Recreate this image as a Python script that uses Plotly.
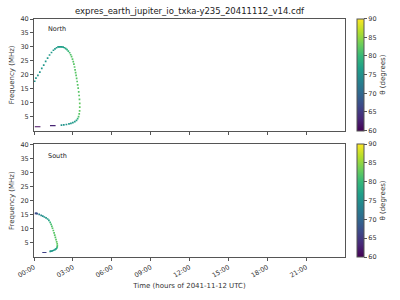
import plotly.graph_objects as go

# ---- data (hours of day, frequency MHz, theta degrees) ----
north_t = [0.05, 0.15, 0.3, 0.45, 0.6, 0.75, 0.9, 1.05, 1.2, 1.35, 1.5, 1.62, 1.74, 1.86, 1.95, 2.05, 2.15, 2.25,
           2.35, 2.45, 2.55, 2.65, 2.75, 2.83, 2.9, 2.97, 3.03, 3.08, 3.13, 3.17, 3.21, 3.25, 3.29, 3.33,
           3.37, 3.41, 3.45, 3.48, 3.51, 3.53, 3.53, 3.52, 3.49, 3.44, 3.37, 3.28, 3.15, 3.0, 2.85, 2.7, 2.5, 2.3, 2.12]
north_f = [17.7, 18.8, 19.8, 21.0, 22.3, 23.5, 24.8, 26.0, 27.1, 28.0, 28.8, 29.3, 29.7, 30.0, 30.0, 30.0, 30.0, 29.9,
           29.7, 29.4, 29.0, 28.5, 27.9, 27.2, 26.5, 25.6, 24.7, 23.8, 22.8, 21.8, 20.8, 19.8, 18.7, 17.6,
           16.4, 15.2, 13.9, 12.6, 11.2, 9.8, 8.4, 7.1, 6.0, 5.0, 4.3, 3.7, 3.2, 2.9, 2.6, 2.4, 2.2, 2.1, 2.0]
north_th = [75.5, 75.5, 75.5, 75.5, 75.8, 75.8, 76, 76, 76, 76.2, 76.2, 76.3, 76.3, 76.5, 76.5, 76.5, 76.5, 77,
            77.5, 78, 79, 80, 81, 81.5, 82, 82, 82, 82, 82, 82, 82, 82, 82, 82,
            82, 82, 82, 82, 82, 82.5, 82.5, 82.5, 82, 81.5, 80, 77, 76.5, 76, 76, 76, 75.5, 75.5, 75.5]
north_low_t = [0.28, 1.45]
north_low_f = [1.4, 1.8]
north_low_th = [61, 63]

south_t = [0.12, 0.18, 0.24, 0.4, 0.55, 0.68, 0.8, 0.93, 1.05, 1.15, 1.25, 1.32, 1.38, 1.43, 1.49, 1.55, 1.6, 1.65,
           1.7, 1.75, 1.79, 1.8, 1.79, 1.76, 1.7, 1.62, 1.52, 1.42, 1.32, 1.25]
south_f = [15.5, 15.5, 15.4, 15.1, 14.8, 14.5, 14.2, 13.9, 13.5, 13.0, 12.3, 11.6, 10.9, 10.2, 9.4, 8.6, 7.8, 7.0,
           6.2, 5.4, 4.7, 4.1, 3.6, 3.2, 2.9, 2.6, 2.4, 2.2, 2.1, 2.0]
south_th = [67, 67, 68, 73, 74, 75, 75.5, 76, 76.5, 77, 80, 81, 81.5, 82, 82, 82, 82, 82,
            82, 82.5, 82.5, 82, 81, 79, 77, 76.5, 76, 76, 76, 76]
south_low_t = [0.8]
south_low_f = [1.6]
south_low_th = [66]

hour_ticks = [0, 3, 6, 9, 12, 15, 18, 21]
hour_labels = ["00:00", "03:00", "06:00", "09:00", "12:00", "15:00", "18:00", "21:00"]
freq_ticks = [5, 10, 15, 20, 25, 30, 35, 40]
theta_ticks = [60, 65, 70, 75, 80, 85, 90]

title = "expres_earth_jupiter_io_txka-y235_20411112_v14.cdf"
FONT = "DejaVu Sans"
AX = "#555555"

fig = go.Figure()


def add(t, f, th, ax, ca, symbol="square", size=1.7):
    if "line" in symbol:
        line = dict(width=1.2, color=th, coloraxis=ca)
    else:
        line = dict(width=0)
    fig.add_trace(go.Scatter(x=t, y=f, mode="markers", xaxis="x" + ax, yaxis="y" + ax,
                             marker=dict(symbol=symbol, size=size, color=th, coloraxis=ca, line=line),
                             showlegend=False, hoverinfo="skip"))


add(north_t, north_f, north_th, "", "coloraxis")
add(north_low_t, north_low_f, north_low_th, "", "coloraxis", symbol="line-ew", size=4)
add(south_t, south_f, south_th, "2", "coloraxis2")
add(south_low_t, south_low_f, south_low_th, "2", "coloraxis2", symbol="line-ew", size=3)

common_x = dict(range=[0, 24], tickvals=hour_ticks, showgrid=False, zeroline=False, showline=True,
                linecolor=AX, linewidth=1, mirror=True, ticks="outside", ticklen=3, tickcolor=AX,
                tickfont=dict(size=6.5, color="#333"))
common_y = dict(range=[0, 40], tickvals=freq_ticks, showgrid=False, zeroline=False, showline=True,
                linecolor=AX, linewidth=1, mirror=True, ticks="outside", ticklen=3, tickcolor=AX,
                tickfont=dict(size=6.5, color="#333"),
                title=dict(text="Frequency (MHz)", font=dict(size=7, color="#333"), standoff=4))

cb_common = dict(thickness=7, xpad=0, ypad=0, x=1.04, xanchor="left", yanchor="bottom",
                 outlinecolor=AX, outlinewidth=1, tickvals=theta_ticks, ticks="outside", ticklen=3,
                 tickcolor=AX, tickfont=dict(size=6.5, color="#333"),
                 title=dict(text="θ (degrees)", side="right", font=dict(size=7, color="#333")))

fig.update_layout(
    width=400, height=300, margin=dict(l=31, r=50, t=19, b=38),
    paper_bgcolor="white", plot_bgcolor="white",
    font=dict(family=FONT, size=7, color="#333"),
    title=dict(text=title, x=0.5, xref="paper", y=1 - 11 / 300, yanchor="middle",
               font=dict(size=8.5, color="#222")),
    xaxis=dict(common_x, domain=[0, 1], anchor="y", showticklabels=False),
    yaxis=dict(common_y, domain=[0.5309, 1.0], anchor="x"),
    xaxis2=dict(common_x, domain=[0, 1], anchor="y2", ticktext=hour_labels, tickangle=-30,
                title=dict(text="Time (hours of 2041-11-12 UTC)", font=dict(size=7, color="#333"), standoff=4)),
    yaxis2=dict(common_y, domain=[0, 0.4733], anchor="x2"),
    coloraxis=dict(colorscale="Viridis", cmin=60, cmax=90,
                   colorbar=dict(cb_common, y=0.5309, len=0.4691)),
    coloraxis2=dict(colorscale="Viridis", cmin=60, cmax=90,
                    colorbar=dict(cb_common, y=0.0, len=0.4733)),
    annotations=[
        dict(text="North", xref="x domain", yref="y domain", x=0.04, y=0.91, xanchor="left",
             yanchor="middle", showarrow=False, font=dict(size=6.5, color="#222")),
        dict(text="South", xref="x2 domain", yref="y2 domain", x=0.04, y=0.9, xanchor="left",
             yanchor="middle", showarrow=False, font=dict(size=6.5, color="#222")),
    ],
)

fig.write_html("out.html")
